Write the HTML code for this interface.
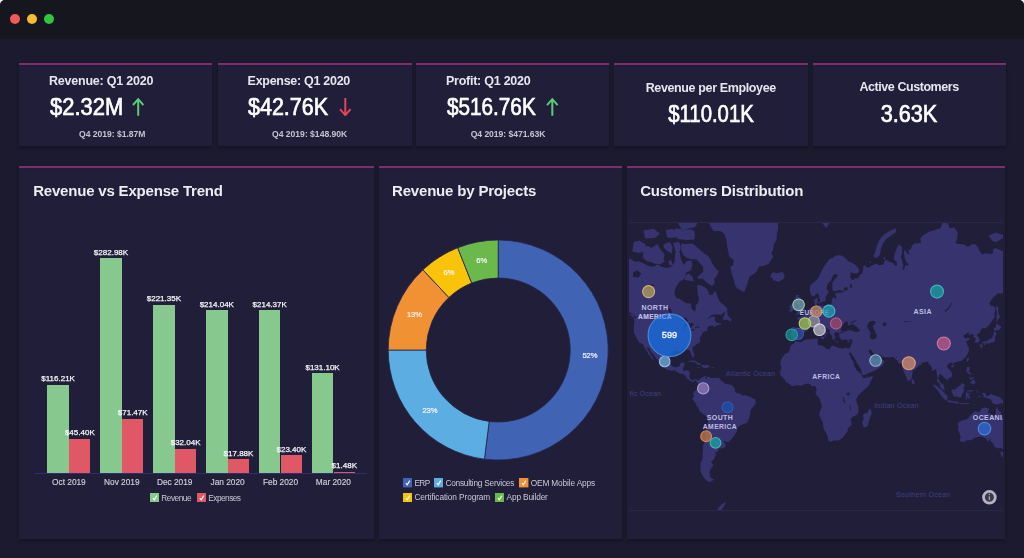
<!DOCTYPE html>
<html><head><meta charset="utf-8"><style>
*{box-sizing:border-box;margin:0;padding:0}
html{background:#f0f0f0}
html,body{width:1024px;height:558px;overflow:hidden}
body{background:#1c1a2e;font-family:"Liberation Sans", sans-serif;color:#fff;position:relative;border-radius:5px 5px 0 0}
.abs{position:absolute}
.card{position:absolute;top:63px;height:83px;background:#211e3a;box-shadow:0 2px 3px rgba(8,6,18,0.35)}
.panel{position:absolute;top:165px;height:373.8px;background:#211e3a;box-shadow:0 2px 3px rgba(8,6,18,0.35)}
.t{position:absolute;white-space:nowrap;line-height:1}
.pl{position:absolute;height:4px;background:linear-gradient(to bottom,#22162c 0%,#22162c 25%,#70306c 25%,#783474 50%,#70306c 75%,#2a1638 75%,#2a1638 100%)}
</style></head><body><div id="root" style="position:absolute;left:0;top:0;width:1024px;height:558px;filter:blur(0.45px)">
<div class="abs" style="left:0;top:0;width:1024px;height:39px;background:#16161e;border-radius:5px 5px 0 0"></div>
<div class="abs" style="left:9.7px;top:14px;width:10px;height:10px;border-radius:50%;background:#f25a5a"></div>
<div class="abs" style="left:26.5px;top:14px;width:10px;height:10px;border-radius:50%;background:#f7bd2e"></div>
<div class="abs" style="left:43.6px;top:14px;width:10px;height:10px;border-radius:50%;background:#2fc641"></div>

<div class="card" style="left:19px;width:193px"></div>
<div class="pl" style="left:19px;width:193px;top:62.2px"></div>
<div class="card" style="left:218px;width:194px"></div>
<div class="pl" style="left:218px;width:194px;top:62.2px"></div>
<div class="card" style="left:416px;width:193px"></div>
<div class="pl" style="left:416px;width:193px;top:62.2px"></div>
<div class="card" style="left:614px;width:194px"></div>
<div class="pl" style="left:614px;width:194px;top:62.2px"></div>
<div class="card" style="left:813px;width:193px"></div>
<div class="pl" style="left:813px;width:193px;top:62.2px"></div>
<div class="panel" style="left:19px;width:354.5px"></div>
<div class="pl" style="left:19px;width:354.5px;top:164.5px"></div>
<div class="panel" style="left:379px;width:242.5px"></div>
<div class="pl" style="left:379px;width:242.5px;top:164.5px"></div>
<div class="panel" style="left:626.5px;width:378.1px"></div>
<div class="pl" style="left:626.5px;width:378.1px;top:164.5px"></div>
<svg class="abs" style="left:132px;top:98px" width="12.4" height="17.8"><path d="M6.2 1.2 L6.2 17.8 M1 7.0 L6.2 1.2 L11.4 7.0" stroke="#5ccb78" stroke-width="2" fill="none" stroke-linecap="butt" stroke-linejoin="miter"/></svg>
<svg class="abs" style="left:338.8px;top:98px" width="12.6" height="18.3"><path d="M6.3 0 L6.3 17.1 M1 11.2 L6.3 17.1 L11.6 11.2" stroke="#e0455e" stroke-width="2" fill="none" stroke-linecap="butt" stroke-linejoin="miter"/></svg>
<svg class="abs" style="left:546.4px;top:98px" width="12.6" height="17.8"><path d="M6.3 1.2 L6.3 17.8 M1 7.1 L6.3 1.2 L11.6 7.1" stroke="#5ccb78" stroke-width="2" fill="none" stroke-linecap="butt" stroke-linejoin="miter"/></svg>
<div class="abs" style="left:34.9px;top:473px;width:332.5px;height:1.4px;background:#2e2e74"></div>
<div class="abs" style="left:47.30px;top:384.68px;width:21.6px;height:88.32px;background:#86c88e"></div>
<div class="abs" style="left:69.10px;top:438.50px;width:21.4px;height:34.50px;background:#e05766"></div>
<div class="abs" style="left:100.20px;top:257.94px;width:21.6px;height:215.06px;background:#86c88e"></div>
<div class="abs" style="left:122.00px;top:418.68px;width:21.4px;height:54.32px;background:#e05766"></div>
<div class="abs" style="left:153.10px;top:304.77px;width:21.6px;height:168.23px;background:#86c88e"></div>
<div class="abs" style="left:174.90px;top:448.65px;width:21.4px;height:24.35px;background:#e05766"></div>
<div class="abs" style="left:206.00px;top:310.33px;width:21.6px;height:162.67px;background:#86c88e"></div>
<div class="abs" style="left:227.80px;top:459.41px;width:21.4px;height:13.59px;background:#e05766"></div>
<div class="abs" style="left:258.90px;top:310.08px;width:21.6px;height:162.92px;background:#86c88e"></div>
<div class="abs" style="left:280.70px;top:455.22px;width:21.4px;height:17.78px;background:#e05766"></div>
<div class="abs" style="left:311.80px;top:373.36px;width:21.6px;height:99.64px;background:#86c88e"></div>
<div class="abs" style="left:333.60px;top:471.80px;width:21.4px;height:1.20px;background:#e05766"></div>
<svg class="abs" style="left:150px;top:493.1px" width="9.4" height="9.4"><rect width="9.4" height="9.4" fill="#86c88e"/><path d="M2.82 5.17 L4.23 6.77 L6.77 2.63" stroke="#fff" stroke-width="1.1" fill="none"/></svg>
<svg class="abs" style="left:196.8px;top:493.1px" width="9.4" height="9.4"><rect width="9.4" height="9.4" fill="#e05766"/><path d="M2.82 5.17 L4.23 6.77 L6.77 2.63" stroke="#fff" stroke-width="1.1" fill="none"/></svg>
<svg class="abs" style="left:0;top:0" width="1024" height="558" viewBox="0 0 1024 558"><path d="M498.20 240.00 A110.0 110.0 0 1 1 484.41 459.13 L489.18 421.43 A72.0 72.0 0 1 0 498.20 278.00Z" fill="#4063b4" stroke="#26234a" stroke-width="0.8"/><path d="M484.41 459.13 A110.0 110.0 0 0 1 388.20 350.00 L426.20 350.00 A72.0 72.0 0 0 0 489.18 421.43Z" fill="#5caee2" stroke="#26234a" stroke-width="0.8"/><path d="M388.20 350.00 A110.0 110.0 0 0 1 422.90 269.81 L448.91 297.51 A72.0 72.0 0 0 0 426.20 350.00Z" fill="#f09234" stroke="#26234a" stroke-width="0.8"/><path d="M422.90 269.81 A110.0 110.0 0 0 1 457.71 247.72 L471.70 283.06 A72.0 72.0 0 0 0 448.91 297.51Z" fill="#f9c30c" stroke="#26234a" stroke-width="0.8"/><path d="M457.71 247.72 A110.0 110.0 0 0 1 498.20 240.00 L498.20 278.00 A72.0 72.0 0 0 0 471.70 283.06Z" fill="#6cb94b" stroke="#26234a" stroke-width="0.8"/></svg>
<svg class="abs" style="left:403.1px;top:478.2px" width="9.4" height="9.4"><rect width="9.4" height="9.4" fill="#4063b4"/><path d="M2.82 5.17 L4.23 6.77 L6.77 2.63" stroke="#fff" stroke-width="1.1" fill="none"/></svg>
<svg class="abs" style="left:433.9px;top:478.2px" width="9.4" height="9.4"><rect width="9.4" height="9.4" fill="#5caee2"/><path d="M2.82 5.17 L4.23 6.77 L6.77 2.63" stroke="#fff" stroke-width="1.1" fill="none"/></svg>
<svg class="abs" style="left:519.3px;top:478.2px" width="9.4" height="9.4"><rect width="9.4" height="9.4" fill="#f09234"/><path d="M2.82 5.17 L4.23 6.77 L6.77 2.63" stroke="#fff" stroke-width="1.1" fill="none"/></svg>
<svg class="abs" style="left:403.1px;top:492.7px" width="9.4" height="9.4"><rect width="9.4" height="9.4" fill="#f9c30c"/><path d="M2.82 5.17 L4.23 6.77 L6.77 2.63" stroke="#fff" stroke-width="1.1" fill="none"/></svg>
<svg class="abs" style="left:494.9px;top:492.7px" width="9.4" height="9.4"><rect width="9.4" height="9.4" fill="#6cb94b"/><path d="M2.82 5.17 L4.23 6.77 L6.77 2.63" stroke="#fff" stroke-width="1.1" fill="none"/></svg>
<svg class="abs" style="left:629px;top:222px" width="374" height="288" viewBox="629 222 374 288">
<rect x="629" y="222" width="374" height="288" fill="#211e3a"/>
<path d="M574.5 274.9L579.9 270.3L577.2 263.5L589.7 254.1L601.7 258.1L611.3 260.9L618.1 263.5L626.2 259.3L630.3 258.5L634.4 261.6L639.8 261.6L643.9 263.5L648.0 266.1L653.5 266.8L657.5 264.6L661.6 266.8L665.7 267.8L669.8 267.5L672.5 265.3L674.6 261.2L675.2 253.2L678.0 248.9L680.0 253.2L681.0 259.3L683.7 265.0L686.8 260.9L691.6 260.5L692.5 265.0L690.9 270.3L688.2 271.6L686.1 272.6L685.0 276.8L684.1 279.3L679.7 281.4L677.3 285.0L675.2 288.6L674.4 294.0L676.6 298.3L680.0 298.8L683.4 301.4L686.8 303.3L691.2 303.6L691.2 308.3L692.9 309.9L695.0 311.6L695.8 309.4L695.7 305.4L698.4 302.2L698.9 297.8L697.7 294.5L697.4 290.0L697.0 285.3L700.4 285.0L704.5 287.0L706.5 288.6L708.5 292.1L708.9 294.2L710.6 295.0L712.7 294.7L714.7 290.8L715.7 291.9L717.4 296.5L719.1 300.2L720.8 302.6L724.5 305.4L727.0 308.3L727.5 310.5L725.3 311.8L721.5 314.4L716.8 314.4L712.7 314.6L710.0 316.2L707.2 319.7L709.3 317.9L712.7 316.6L715.4 317.0L714.7 318.9L715.0 320.8L716.3 322.4L719.5 323.2L721.5 322.8L720.8 324.3L716.8 325.4L713.6 327.3L713.1 325.4L711.7 325.4L709.5 326.0L707.6 327.3L707.1 329.1L707.9 330.6L706.5 331.1L704.5 331.6L702.5 332.7L702.5 334.6L700.8 335.8L700.4 337.2L699.7 338.9L700.4 341.2L700.0 341.8L698.9 342.7L697.3 343.8L695.7 345.1L693.6 346.5L692.7 347.8L692.4 349.5L693.5 352.5L694.3 355.3L693.8 357.3L692.8 357.5L691.8 356.0L690.6 353.5L690.5 351.6L689.3 350.3L688.2 350.1L686.1 349.5L683.4 349.5L681.4 349.8L681.9 351.3L680.4 351.5L678.6 350.9L675.9 350.6L674.1 351.2L671.8 352.7L670.7 354.2L670.6 356.1L670.2 358.8L670.1 361.6L670.9 364.2L672.2 366.0L674.6 367.5L677.3 366.8L679.3 366.3L680.1 364.2L680.3 363.3L682.7 362.7L684.8 362.7L684.1 365.6L683.4 367.3L683.0 370.2L683.1 370.9L686.1 370.6L688.4 370.6L689.9 371.9L689.5 374.6L689.4 376.7L690.2 378.7L691.6 380.1L693.6 379.8L695.0 379.3L696.3 379.5L698.0 380.6L698.0 381.6L696.7 382.2L696.3 380.9L694.6 380.6L693.8 382.2L692.9 381.7L691.8 381.1L690.2 381.0L689.3 380.1L687.5 378.8L686.4 378.3L686.5 377.2L684.1 374.6L682.0 373.9L679.3 373.4L677.6 372.6L674.6 370.3L671.8 370.9L669.1 370.1L667.2 369.4L665.0 368.2L662.3 367.3L660.3 365.9L659.3 364.3L659.9 362.7L658.2 360.3L656.5 358.4L654.8 356.7L654.1 355.1L652.1 353.3L650.3 351.2L649.6 349.3L648.7 348.1L646.9 347.5L647.3 349.5L649.0 351.6L650.5 354.4L652.1 356.4L653.0 358.8L653.6 360.7L652.8 359.8L651.0 358.4L650.5 356.3L649.0 355.0L647.9 353.6L647.6 352.1L645.6 349.5L644.6 347.6L643.8 346.2L643.2 344.8L641.9 343.8L640.5 343.1L639.0 342.8L638.6 341.4L637.3 339.5L636.4 337.5L635.8 336.7L634.7 334.1L633.9 333.0L634.1 330.2L633.7 328.4L634.4 322.4L634.1 320.2L633.4 318.1L635.5 318.5L636.4 317.2L635.8 316.2L634.4 315.2L633.0 314.2L631.0 313.1L629.6 312.7L629.0 310.5L626.9 307.7L625.6 305.0L624.2 302.6L622.1 299.0L620.1 296.0L617.4 295.3L614.7 293.5L612.6 291.9L608.5 291.3L605.8 290.5L601.7 289.2L599.0 288.1L597.0 291.3L596.3 294.0L593.6 297.8L590.8 299.5L588.1 300.2L585.4 301.9L582.7 303.8L579.3 305.0L582.7 302.6L586.8 299.0L588.8 295.3L585.4 295.0L582.7 291.6L579.3 290.0L578.6 287.2L579.0 282.3L584.0 278.4L582.0 278.7L577.2 278.4L574.5 274.9ZM703.8 217.8L709.3 224.1L713.4 231.1L720.2 231.1L724.2 233.8L726.3 239.5L727.6 248.5L729.0 255.3L730.4 258.1L733.8 260.1L733.1 265.0L730.4 266.8L731.7 273.6L733.8 279.9L735.1 285.3L737.2 288.6L741.3 290.8L744.0 291.9L745.3 289.7L746.7 285.8L748.1 281.4L749.4 276.8L752.2 274.9L756.2 272.0L759.0 266.8L763.7 265.7L768.5 263.9L771.9 258.9L773.3 256.1L771.2 253.2L773.3 248.9L773.9 243.9L776.7 239.5L776.7 234.3L778.0 228.8L778.0 222.9L776.7 216.4L778.0 209.4L782.8 201.7L786.9 193.2L776.0 186.6L762.4 171.4L741.9 182.5L728.3 185.6L721.5 188.5L716.1 195.8L713.4 201.7L707.9 209.4L703.8 217.8ZM770.5 275.2L772.6 272.3L776.0 273.3L778.7 273.0L782.8 272.0L784.8 276.2L783.5 279.0L778.7 281.7L774.6 280.5L772.4 280.5L773.3 278.4L770.5 277.2ZM718.9 271.6L716.3 276.8L714.0 278.4L714.7 283.2L712.7 285.8L710.0 285.0L705.9 281.7L702.5 278.4L699.1 279.0L697.0 277.5L699.1 275.2L703.1 272.0L703.1 266.8L699.7 263.1L696.3 259.3L691.6 259.3L686.8 257.7L683.4 255.3L681.0 248.9L681.4 243.4L686.1 243.9L692.9 243.4L698.4 248.5L703.8 253.2L707.9 256.1L710.6 259.3L712.0 263.1L715.4 268.2ZM694.3 239.5L686.1 240.0L678.0 239.0L672.5 234.3L675.2 228.2L683.4 229.4L690.2 229.4L694.3 230.5L695.0 235.4ZM682.0 229.9L690.2 228.2L695.0 227.1L699.7 219.7L703.8 213.0L712.0 205.7L718.8 193.2L718.8 183.6L701.1 177.2L680.7 190.4L673.9 201.7L671.2 213.0L676.6 221.0ZM680.0 251.1L675.5 252.0L673.2 242.9L679.3 241.9L680.7 246.7ZM671.8 253.2L667.1 251.1L663.7 247.6L663.7 244.3L669.8 241.9L672.5 246.7ZM665.0 261.2L660.3 264.2L655.5 263.9L650.7 262.0L646.7 261.2L642.6 257.3L643.2 253.2L641.2 248.9L648.0 245.7L651.4 248.0L657.5 243.9L660.3 248.9L664.6 254.5L663.7 259.3ZM646.0 248.9L639.8 253.2L632.4 251.5L633.7 241.9L639.2 240.5L645.3 243.9ZM659.6 234.3L654.8 238.0L645.3 238.5L643.2 230.5L653.5 228.8L658.9 232.7ZM676.6 236.9L671.2 238.0L667.1 237.5L665.7 229.9L672.5 228.8L676.6 232.7ZM672.5 265.0L669.1 265.0L668.4 261.2L671.2 260.1ZM693.6 281.4L690.2 280.8L684.8 279.9L685.4 275.2L688.9 273.6L692.3 276.8ZM722.5 319.7L727.0 319.8L730.4 321.4L731.5 319.8L730.4 317.9L727.6 315.8L727.6 311.6L725.6 311.6L723.6 316.8ZM687.6 362.1L690.2 360.7L691.6 360.4L694.3 360.6L698.4 362.7L702.2 364.6L697.7 365.0L696.3 362.9L692.3 361.7L688.2 362.3ZM701.9 365.0L704.5 365.0L707.9 365.1L710.1 366.8L707.9 367.4L705.9 368.2L701.9 367.3ZM696.6 367.1L699.5 367.1L699.3 367.8L697.3 367.8ZM711.7 367.0L713.9 367.1L713.8 367.7L711.7 367.8ZM635.4 318.1L633.0 317.2L628.4 313.1L629.6 313.7L632.8 314.4ZM698.0 380.6L699.7 379.5L700.4 378.0L702.1 377.4L703.8 376.7L705.2 375.4L706.1 376.3L705.5 377.8L706.3 379.8L706.7 377.5L707.6 376.5L709.3 376.8L710.6 378.0L713.4 377.9L716.1 377.9L718.8 377.8L720.2 379.4L721.5 380.7L722.9 381.8L724.2 383.0L725.6 384.1L728.3 384.2L731.1 384.8L733.1 386.5L733.8 387.5L735.1 389.7L735.1 391.7L736.5 392.8L737.9 393.2L739.9 393.5L742.6 395.5L744.7 395.3L747.4 396.0L750.8 397.1L752.8 398.6L755.3 399.5L755.8 402.2L755.1 404.5L753.5 406.2L752.2 407.9L750.8 409.7L750.1 412.4L749.8 416.2L749.0 418.7L748.1 420.8L747.4 422.3L746.0 423.6L744.4 423.7L741.9 424.7L739.2 426.1L737.2 427.8L737.0 431.4L735.4 433.4L734.2 435.7L732.4 437.8L730.5 440.2L728.5 441.9L726.3 441.8L724.5 441.3L723.7 440.8L723.6 441.8L725.2 443.3L726.0 444.4L724.8 447.4L722.9 448.3L720.2 448.6L718.5 448.5L718.4 451.1L716.3 452.5L714.7 452.3L715.7 454.6L716.5 455.5L715.3 455.7L714.6 457.7L713.9 459.6L711.3 461.5L711.3 462.5L713.6 465.0L711.6 467.4L710.5 469.7L709.3 472.0L710.1 474.4L710.0 476.6L711.4 478.2L714.4 479.8L712.7 480.5L710.0 481.4L711.6 482.8L708.6 481.7L706.5 480.5L704.5 478.2L702.5 475.5L701.1 472.7L700.4 469.5L700.6 466.4L700.3 463.4L701.5 461.1L702.5 458.7L702.7 455.9L702.5 453.7L702.7 451.4L703.1 448.8L703.0 445.7L704.1 442.9L705.2 440.5L705.7 438.9L705.9 435.0L706.1 431.9L706.8 429.6L707.2 426.6L707.4 424.6L707.8 421.6L707.6 419.4L707.5 417.3L706.0 416.2L704.5 414.8L702.5 413.5L700.4 412.1L699.3 410.6L698.4 408.3L697.3 406.7L696.3 404.9L695.0 402.2L694.0 400.8L692.8 400.2L692.5 398.2L693.9 396.7L694.6 395.5L693.1 395.1L693.6 393.3L694.2 391.5L695.7 390.4L696.2 389.7L697.3 388.7L698.1 386.8L697.8 383.4L697.2 382.4ZM795.3 340.9L793.9 343.6L791.6 344.9L790.4 346.3L789.9 349.2L789.6 350.7L787.8 352.8L785.6 353.5L783.5 356.0L782.5 357.6L781.4 359.1L780.7 361.3L780.1 363.4L781.0 365.6L781.3 367.7L780.7 370.2L780.1 371.9L779.4 372.3L780.3 373.9L780.5 375.6L782.1 376.7L782.8 377.4L783.9 378.7L784.8 379.4L785.2 380.7L786.6 382.4L788.2 383.0L789.9 384.5L791.6 385.9L793.0 386.3L795.0 385.6L796.4 385.3L798.4 385.3L800.5 385.9L801.8 385.2L803.9 384.4L805.2 384.0L806.6 383.7L809.3 383.7L810.7 384.8L811.4 386.4L813.4 386.1L814.8 386.0L815.7 387.1L816.5 388.8L816.5 390.8L815.9 392.1L815.5 393.1L816.8 395.5L818.4 397.1L819.5 398.6L819.9 400.2L820.9 402.2L821.2 403.9L821.8 406.2L821.8 407.6L820.6 409.7L819.8 411.7L819.3 414.5L819.3 415.6L820.2 417.3L821.6 420.1L822.7 422.3L822.9 423.6L823.3 426.6L823.9 429.6L825.7 432.0L826.8 434.2L827.7 436.5L828.1 438.9L828.2 440.6L829.5 441.3L830.4 441.8L832.5 441.1L833.8 440.5L835.9 440.6L838.0 440.5L839.3 440.0L841.2 438.9L842.7 437.6L844.0 436.2L845.4 433.9L846.8 432.3L847.4 431.6L848.0 428.9L847.6 428.0L848.8 427.2L850.8 426.1L851.5 424.7L851.3 422.3L851.0 420.8L850.6 419.4L851.5 418.0L853.4 416.5L855.6 415.6L857.4 414.2L858.3 412.4L858.5 411.0L858.3 409.0L858.3 406.2L857.2 404.2L856.7 402.9L856.7 401.2L856.0 400.3L856.6 398.6L857.2 397.5L857.9 396.1L859.0 394.8L859.8 394.1L861.1 392.8L862.4 391.5L863.8 390.1L865.8 388.8L867.2 387.5L868.5 386.1L869.5 384.4L870.6 381.4L871.7 379.4L872.4 378.0L873.0 376.3L871.9 376.1L869.9 376.9L867.9 377.2L865.8 377.8L864.5 378.2L863.1 378.0L862.3 376.5L861.6 375.6L862.1 375.0L860.6 373.5L859.4 372.6L857.7 370.9L857.0 371.0L855.6 367.7L854.2 366.6L853.8 365.4L853.8 363.4L853.3 361.7L851.7 359.4L851.1 357.9L849.9 355.7L849.2 354.1L847.6 350.3L847.4 349.5L847.2 348.2L846.1 347.8L844.7 347.8L843.9 348.2L842.0 348.7L840.0 348.1L837.5 347.6L835.9 347.0L834.5 346.0L832.5 345.6L830.6 346.7L830.3 348.2L829.1 349.6L827.7 348.9L825.7 348.2L824.0 346.5L821.2 345.6L818.9 345.2L817.6 344.3L817.2 343.5L818.3 341.8L817.6 340.9L817.5 339.4L818.3 338.7L816.5 338.4L814.9 339.0L812.7 338.7L810.7 339.4L807.3 339.2L805.2 339.7L803.2 340.7L801.6 341.7L800.2 342.0L799.1 341.7L797.2 341.8L796.0 340.7ZM870.3 408.3L871.5 411.7L871.9 413.1L871.0 415.2L870.6 416.3L869.2 420.1L868.3 423.7L867.2 426.6L864.7 427.4L863.1 425.9L862.6 424.2L862.1 422.0L863.4 420.1L863.6 418.3L863.1 415.6L863.8 414.1L866.5 413.2L867.9 411.9L868.5 410.3L869.5 409.0ZM795.6 340.5L794.6 339.7L793.1 338.5L791.1 338.9L791.2 336.7L790.3 335.8L791.1 332.9L791.1 330.2L790.5 328.4L792.3 327.1L796.4 327.5L799.1 327.7L800.7 327.7L801.4 325.6L801.6 322.8L800.2 320.4L797.2 319.1L796.8 318.1L799.1 317.2L801.0 317.7L800.6 315.4L801.6 316.0L803.5 315.8L805.2 314.4L805.4 312.9L806.6 312.5L808.1 311.8L808.9 310.5L809.6 308.6L810.7 307.4L812.7 307.2L814.8 307.0L814.9 305.0L814.4 302.6L814.2 299.5L816.1 298.5L817.6 297.3L817.4 300.2L817.9 301.0L816.8 303.1L816.8 304.7L818.2 305.6L820.2 305.0L822.3 306.1L825.0 305.4L828.4 304.3L829.9 305.2L831.8 303.3L831.9 300.2L832.6 297.8L834.0 297.3L835.2 299.0L836.3 298.3L836.3 295.8L835.2 295.0L835.3 293.5L836.8 292.7L839.3 292.4L841.3 292.7L844.3 291.6L842.7 290.8L840.0 290.0L837.2 290.5L834.5 291.6L832.3 289.7L832.5 286.4L832.1 283.5L833.8 280.5L836.6 277.5L837.8 275.2L836.1 274.3L833.8 274.3L832.2 277.2L831.1 280.5L829.1 282.3L827.4 284.4L826.6 287.2L826.8 289.7L828.7 291.1L828.4 292.7L827.0 294.5L825.7 296.8L825.7 300.2L824.7 301.2L822.8 301.4L820.8 302.9L820.2 300.2L819.3 297.3L818.4 294.5L817.6 292.4L816.8 294.0L816.1 294.2L814.1 296.3L812.0 296.0L810.8 294.5L810.3 292.7L810.0 290.0L809.9 287.2L810.3 285.3L812.0 283.8L814.1 282.0L816.1 280.5L817.5 278.4L819.5 275.9L820.2 273.6L821.6 270.9L822.9 268.5L824.3 266.1L825.7 264.6L827.7 261.2L829.7 258.9L832.5 258.1L835.2 256.1L838.3 254.9L842.0 255.7L845.4 258.1L848.1 261.2L852.2 262.8L855.6 265.3L858.3 267.8L859.3 270.9L858.3 273.0L855.6 273.6L850.8 272.6L850.2 276.2L850.6 278.4L853.6 280.2L854.9 278.1L858.3 278.4L859.7 275.2L862.4 273.0L863.1 269.6L863.4 265.7L865.1 265.0L865.8 266.8L868.5 267.8L869.9 266.8L872.6 265.3L876.0 263.5L878.8 265.0L881.5 265.0L883.5 264.6L884.2 261.2L885.6 260.1L887.6 260.5L890.3 262.0L893.0 263.1L894.4 265.0L896.4 266.1L897.1 263.5L896.2 261.2L894.1 260.1L894.1 255.3L896.4 248.9L897.8 246.7L898.5 244.3L900.5 245.7L902.3 247.6L901.9 253.2L900.9 257.3L902.6 262.0L903.3 265.7L902.2 270.3L904.2 269.2L905.3 265.0L907.3 265.7L908.7 263.9L906.0 262.0L904.6 257.3L903.7 252.0L905.3 249.8L906.7 253.2L909.7 254.5L908.0 250.2L910.7 248.9L912.9 244.3L914.8 243.4L921.0 242.9L920.3 238.5L922.3 235.9L925.7 233.8L929.8 231.6L933.9 230.5L938.0 228.8L940.7 228.2L942.1 223.5L945.2 221.6L948.2 224.1L949.5 228.2L954.3 227.6L957.7 232.2L957.4 236.9L955.7 242.9L958.4 243.9L963.8 244.3L967.9 247.1L972.0 244.3L975.4 244.3L978.1 247.6L979.5 251.1L982.2 254.5L985.6 253.2L989.7 254.1L993.1 253.2L993.1 249.3L995.1 248.0L1000.6 250.2L1007.4 252.8L1010.8 255.7L1014.2 255.3L1019.6 256.1L1021.7 259.3L1022.4 261.2L1026.5 260.9L1030.5 260.1L1034.6 259.3L1040.1 260.1L1045.5 261.6L1048.2 263.5L1048.2 276.8L1045.5 278.4L1043.5 278.1L1044.8 282.9L1040.1 286.4L1037.3 288.6L1034.6 291.3L1029.2 291.6L1025.8 291.9L1025.1 295.3L1023.7 297.0L1025.1 300.2L1023.7 301.9L1023.0 305.0L1021.0 308.3L1019.0 309.4L1016.5 312.7L1015.8 309.4L1015.2 303.8L1015.4 299.5L1016.7 297.0L1019.0 296.0L1021.0 292.1L1023.0 290.0L1021.0 288.1L1018.3 286.7L1016.2 287.2L1014.2 292.7L1011.5 293.7L1009.4 292.9L1006.0 292.9L1001.9 293.5L997.9 293.2L995.8 295.3L993.1 297.8L990.8 300.7L989.4 303.8L991.1 306.1L993.1 305.9L995.6 307.7L995.1 310.5L994.5 313.7L994.2 317.9L992.4 320.0L991.1 322.4L989.4 324.7L987.7 326.6L985.3 328.6L983.3 328.0L982.2 328.4L981.1 329.3L979.9 332.0L979.5 333.0L977.4 334.1L976.8 335.0L977.9 336.3L979.4 338.9L979.4 341.4L978.8 342.0L976.9 342.7L975.4 343.1L975.1 341.4L975.4 339.5L975.5 337.7L973.6 337.5L973.5 336.2L973.8 334.6L972.4 333.9L970.0 334.8L968.7 335.5L968.6 334.3L969.3 332.9L968.3 332.2L966.6 333.4L965.2 334.4L963.8 335.1L963.4 336.3L964.1 337.5L965.1 338.2L965.9 338.7L967.5 337.7L968.6 338.0L970.0 338.5L969.7 339.2L967.9 339.9L967.0 340.7L965.6 342.5L967.0 343.3L967.6 346.2L969.1 347.5L969.1 348.5L968.6 349.3L969.1 350.1L968.6 351.6L967.9 353.2L967.0 354.7L966.1 356.4L965.2 357.3L964.1 358.4L962.7 359.7L961.8 360.7L960.0 361.0L958.7 361.6L957.3 361.7L955.7 362.3L953.8 363.2L953.4 364.4L952.8 363.7L952.5 362.7L950.9 362.4L949.3 363.4L948.5 363.9L947.2 365.6L947.1 366.6L948.2 368.4L949.3 369.8L950.6 370.8L951.4 371.9L952.0 373.9L951.9 376.5L950.9 377.4L948.9 378.2L948.2 379.3L946.1 380.6L945.9 379.0L945.5 378.2L944.1 377.9L943.0 376.0L942.3 375.4L940.6 375.0L940.6 373.9L939.3 374.1L939.2 375.3L938.2 378.0L938.4 379.8L939.7 380.9L940.1 382.8L941.4 383.0L942.2 383.8L943.6 385.2L944.0 386.1L944.1 388.4L945.2 390.3L944.1 390.4L942.9 389.6L941.1 388.3L940.1 386.8L939.7 384.9L939.7 383.4L938.8 382.9L937.0 381.6L937.0 380.1L937.4 378.7L937.3 376.7L937.0 375.3L936.6 373.2L936.2 369.8L935.5 369.2L934.6 369.5L933.2 370.8L932.3 370.8L931.6 370.1L932.0 368.4L931.4 366.6L930.6 365.6L929.8 364.9L928.8 363.7L928.4 362.7L928.2 361.4L927.5 361.1L926.4 361.9L925.4 362.1L924.4 362.3L923.3 362.6L921.6 362.7L921.4 364.0L921.0 364.9L918.9 365.6L917.5 367.1L915.2 369.6L913.7 370.6L912.5 371.2L912.4 374.6L911.8 376.7L911.8 378.3L910.7 379.7L909.7 380.3L908.7 381.3L907.5 380.2L907.1 379.4L906.3 376.9L905.3 375.3L904.6 373.2L903.9 371.9L903.1 369.8L902.6 367.7L902.3 366.1L902.3 364.2L902.2 363.2L901.6 362.7L899.9 363.7L899.2 363.7L897.3 361.6L898.9 360.7L897.8 360.7L896.4 359.8L895.1 359.1L894.4 357.9L893.7 357.0L891.0 357.3L887.6 357.3L886.9 357.5L884.2 357.0L883.2 356.7L881.2 356.4L880.8 355.0L880.1 354.5L878.8 355.1L877.4 355.3L876.0 355.0L874.0 353.5L873.0 353.2L871.9 350.9L871.3 349.9L869.6 349.9L868.5 350.3L869.2 352.4L869.8 353.6L871.0 355.0L871.5 356.0L872.1 357.6L872.9 356.0L873.4 356.9L873.4 358.4L873.0 358.7L874.7 358.8L876.7 358.8L878.8 357.2L879.8 355.7L880.0 357.9L881.1 359.2L883.0 359.7L884.6 361.4L884.2 362.7L882.8 364.2L881.9 366.3L880.5 366.7L879.4 367.8L878.5 368.5L877.0 369.1L874.3 371.0L872.9 371.6L869.9 372.6L868.5 373.2L866.5 374.2L864.5 374.9L862.4 375.0L862.0 373.9L861.5 371.9L861.3 371.2L861.1 369.4L860.1 368.0L859.0 366.3L858.3 364.9L856.6 362.7L856.0 360.8L854.9 359.1L854.0 357.6L852.9 356.1L851.7 354.1L850.8 353.0L850.7 350.9L850.2 352.4L849.9 353.5L848.8 352.7L847.6 350.3L847.4 349.5L847.2 348.2L848.8 348.4L849.8 348.1L850.2 347.6L850.8 345.7L851.5 344.0L852.1 342.7L852.1 341.4L852.5 339.5L851.5 339.5L850.3 339.2L848.8 340.2L847.4 340.4L846.1 339.5L844.9 339.2L843.4 340.2L842.0 339.4L840.6 338.9L840.4 338.0L839.1 336.5L839.5 334.6L838.9 333.6L839.4 332.7L838.6 332.3L837.2 332.2L835.9 332.3L834.4 332.7L835.2 333.7L834.0 334.6L834.8 336.3L835.9 337.0L836.0 337.7L834.5 337.4L834.8 339.7L833.7 339.9L832.7 339.2L831.9 337.5L832.5 336.7L831.4 335.1L830.4 334.3L829.6 333.0L829.7 330.6L828.4 329.3L826.3 328.0L824.8 327.3L823.6 325.6L822.9 324.3L821.8 324.5L821.7 323.3L819.9 323.9L819.9 325.8L821.7 327.5L822.9 329.8L825.0 330.4L826.2 331.8L828.4 333.6L828.1 334.1L826.5 332.9L825.7 334.3L826.5 335.5L825.8 336.5L825.1 337.4L824.4 336.8L824.8 335.0L823.6 333.4L822.3 332.3L820.2 331.3L818.4 329.5L817.5 328.4L817.1 326.7L815.3 325.8L813.4 326.9L811.6 328.2L810.0 327.8L808.8 327.5L807.4 328.4L807.6 329.7L806.1 331.5L804.3 332.5L802.8 334.6L803.5 336.0L802.2 337.9L800.3 339.4L797.2 339.4L795.6 340.5ZM795.4 314.6L798.4 314.2L801.8 313.3L805.1 312.3L804.4 311.0L805.5 309.2L803.6 308.1L803.1 307.0L801.4 304.7L801.0 302.4L800.2 301.4L799.7 300.7L800.5 298.8L800.7 297.5L798.7 297.3L797.8 296.8L799.0 295.0L796.4 295.0L795.4 297.8L795.6 300.2L794.8 300.7L795.7 302.9L796.7 302.2L796.3 304.3L798.4 304.0L798.8 305.9L799.1 307.4L796.9 307.7L797.5 308.6L797.6 309.9L796.0 310.8L797.3 311.4L799.1 311.6L798.7 312.3L797.5 312.3ZM795.0 310.1L794.8 307.4L795.0 305.6L795.4 304.5L794.8 303.3L793.3 302.9L791.6 304.0L791.5 305.4L789.6 305.6L789.7 307.4L790.7 308.8L789.0 310.3L789.9 311.6L791.6 311.4L793.7 310.3ZM820.1 337.0L821.3 336.8L824.4 336.7L823.8 338.4L823.8 339.4L822.9 339.2L820.2 337.9ZM814.6 332.0L815.7 331.5L816.5 332.3L816.3 335.1L815.5 335.3L814.6 335.5L814.8 333.7ZM814.9 329.5L816.0 328.4L816.3 329.8L815.7 331.3L815.2 330.9ZM835.2 341.2L836.6 341.5L839.0 341.7L838.6 342.2L836.6 342.2L835.2 341.8ZM847.2 342.2L848.1 341.5L850.3 341.0L849.5 342.3L848.1 342.8ZM818.2 301.9L820.4 301.4L820.1 303.8L818.4 303.3ZM911.8 379.0L912.5 379.0L914.7 382.1L914.3 383.7L912.9 384.2L911.8 382.8L911.7 381.1ZM967.9 357.2L969.3 357.6L968.6 359.8L967.6 362.1L966.7 360.6L967.0 358.7ZM951.0 366.0L952.9 364.7L954.3 365.4L952.9 367.3L951.2 367.0ZM993.8 331.1L995.4 330.6L998.3 330.2L1001.3 327.8L1000.6 326.2L996.5 323.7L996.0 324.1L995.8 327.8L994.2 327.8L993.8 329.8ZM995.8 331.3L996.4 334.6L995.1 336.7L995.1 339.2L994.9 341.0L993.5 342.2L992.1 342.8L989.7 342.8L988.3 344.6L987.2 343.3L984.3 343.1L981.5 343.8L981.5 342.8L983.6 341.4L987.7 341.0L989.4 338.5L990.2 339.2L992.1 337.5L993.6 334.6L993.8 332.3L995.6 331.5ZM980.2 344.6L981.5 344.0L982.8 345.4L981.9 347.9L980.8 348.4L980.4 346.2L979.6 345.1ZM983.6 345.4L986.4 344.1L985.9 343.3L984.3 343.5L983.6 344.9ZM996.5 305.6L998.3 308.3L998.1 312.7L1000.2 316.8L997.9 319.8L996.6 322.8L996.4 318.9L996.8 312.7L996.1 307.7ZM967.2 367.0L969.6 367.0L969.7 370.1L968.6 371.2L972.0 374.6L970.0 374.3L967.9 373.5L967.1 372.6L966.3 370.1ZM969.3 382.8L971.5 381.4L973.9 379.0L975.5 382.5L974.0 384.6L972.0 383.4ZM969.3 376.3L971.3 378.0L974.0 376.7L973.4 378.7L970.6 379.8L969.3 378.0ZM932.9 384.6L935.9 385.2L939.7 388.8L941.4 389.7L944.4 392.8L945.5 394.5L947.5 396.1L947.4 399.9L945.5 400.0L942.5 397.5L940.7 395.2L939.7 393.5L937.3 389.7L935.7 388.1L933.9 387.1ZM946.4 401.2L948.2 400.2L950.6 400.6L953.6 401.4L956.6 401.4L959.1 402.5L958.9 403.8L954.3 403.1L950.2 402.6L948.0 402.1ZM959.7 403.1L961.1 403.3L965.2 403.1L967.2 403.3L970.0 403.3L970.6 403.7L966.6 404.1L961.8 404.1L959.7 403.9ZM972.0 405.7L973.6 404.6L976.5 403.4L975.4 404.1L973.4 405.3ZM951.6 390.1L952.4 389.5L954.3 389.7L957.0 387.9L959.1 386.1L960.3 385.5L962.2 382.8L963.4 384.1L965.5 385.2L963.8 386.4L963.3 388.1L964.5 390.4L963.8 391.1L963.2 392.8L961.8 394.8L961.4 397.2L959.2 397.6L957.0 396.4L955.1 396.8L953.2 396.0L952.9 394.1L951.6 392.1ZM965.7 399.5L967.1 399.6L967.1 396.0L968.1 398.3L970.4 398.6L968.6 394.8L971.2 393.3L967.9 393.5L966.8 391.6L972.3 391.6L973.5 390.0L967.6 390.4L966.3 392.1L965.6 396.1ZM976.8 389.7L978.1 390.4L977.4 392.1L978.5 393.2L976.8 392.8ZM977.4 396.1L980.8 396.3L981.3 397.2L978.1 396.8ZM981.5 393.9L983.4 392.7L985.6 393.2L987.0 396.6L990.9 394.1L995.1 395.6L999.9 397.2L1001.9 399.5L1004.0 400.4L1004.7 402.9L1008.1 406.0L1003.3 405.6L1001.9 402.9L998.5 404.2L997.2 404.6L995.1 404.3L992.4 402.9L990.8 399.4L987.0 398.0L984.3 397.5L982.9 395.9L984.3 395.2L982.9 394.8ZM957.7 422.3L958.4 428.1L957.7 428.9L959.6 433.4L960.7 437.3L959.7 439.7L959.7 441.0L963.7 442.3L966.6 440.3L971.3 440.3L974.7 437.8L978.8 436.7L981.8 436.5L985.9 438.4L987.9 441.8L989.4 439.7L990.8 438.2L990.4 442.1L991.7 441.8L993.1 443.4L994.5 447.1L998.5 448.5L1000.6 447.8L1002.4 449.0L1004.7 446.8L1007.4 446.3L1008.8 440.5L1010.8 437.3L1012.3 431.4L1011.5 427.4L1008.8 424.5L1006.7 422.7L1005.4 419.4L1002.4 417.7L1001.1 413.8L1001.0 412.1L998.7 411.0L997.2 406.5L996.0 409.2L995.8 413.1L994.6 415.9L992.8 415.7L990.8 414.2L987.7 412.4L989.3 408.7L988.1 408.3L983.7 407.6L981.5 408.6L979.5 412.1L977.4 412.4L975.9 410.8L973.4 412.4L971.5 414.2L969.6 416.3L967.9 418.7L964.9 419.8L962.1 420.3L959.2 422.0ZM1000.0 451.8L1005.1 452.1L1004.7 456.3L1001.9 457.0L1000.9 454.4ZM873.3 255.7L875.1 252.8L876.0 248.5L877.5 243.9L880.1 239.0L883.5 234.9L887.6 232.2L892.4 229.4L896.4 228.2L895.8 232.2L890.3 235.9L886.2 239.0L883.5 242.4L881.5 246.7L880.5 251.1L880.1 254.5L878.1 256.9L874.7 257.7ZM882.8 258.5L885.6 260.1L884.9 256.9ZM817.5 208.7L825.0 205.7L833.1 203.3L840.0 204.1L833.8 218.4L829.1 222.9L826.3 228.2L822.3 222.9L818.2 216.4ZM988.3 235.9L992.4 233.8L996.5 232.7L1000.6 234.3L1006.0 235.9L1008.8 236.9L1001.9 238.5L996.5 241.9L992.4 241.0L990.4 238.0ZM869.2 262.0L871.0 261.2L870.6 263.5ZM725.9 501.9L723.6 503.1L720.8 505.3L718.8 507.4L716.8 510.7L720.8 511.3L722.2 508.7L724.5 505.6Z" fill="#37336f"/>
<path d="M840.8 329.3L841.3 327.5L842.3 326.0L843.6 324.3L845.0 321.8L846.5 321.6L848.8 322.8L847.4 323.9L848.8 325.6L851.5 324.5L852.9 324.3L854.9 325.6L857.4 327.5L859.8 330.2L859.7 331.1L857.0 332.0L853.6 331.6L850.8 330.2L848.1 330.2L845.4 331.8L842.7 331.6L841.3 330.9ZM850.8 324.1L851.5 323.5L853.6 322.2L856.7 320.4L854.9 320.6L851.5 321.8L850.7 322.8ZM839.4 333.0L840.6 332.2L842.7 332.0L843.4 332.5L841.3 333.2ZM867.2 325.6L867.9 323.5L869.9 321.6L873.3 320.8L875.3 321.4L875.3 324.1L873.0 325.6L873.3 328.4L874.9 330.6L875.3 332.9L876.7 334.6L876.4 338.2L872.6 339.4L869.9 338.0L869.8 336.3L870.6 333.4L869.2 330.6L867.9 328.4ZM882.8 322.8L885.6 322.4L886.9 324.3L884.9 326.6L882.8 325.6ZM678.0 321.4L680.7 321.2L683.4 317.9L686.1 317.4L688.0 320.8L687.5 321.8L684.8 321.8L682.0 320.8ZM684.1 330.7L685.4 329.3L685.9 325.6L687.5 323.2L685.4 323.0L683.4 325.6L683.7 329.3ZM688.9 327.5L690.9 328.4L692.0 325.6L694.3 325.2L692.9 323.0L688.9 322.8L689.5 325.1ZM689.8 330.7L692.9 330.7L695.7 328.8L692.9 329.3L690.2 329.8ZM694.6 327.8L699.3 327.7L699.3 326.4L695.7 326.7ZM670.1 313.7L671.8 313.7L671.2 309.4L668.4 307.2L668.4 309.4ZM944.4 311.4L946.1 311.4L949.5 308.3L952.3 302.6L952.7 301.9L951.6 302.6L948.2 307.9L944.8 310.8ZM903.3 322.4L906.0 321.6L910.1 321.8L911.0 321.2L908.0 321.0L904.6 321.0ZM844.0 291.3L847.4 290.0L848.1 287.8L845.4 287.0L844.0 288.6ZM849.9 287.5L852.2 287.5L851.5 284.4L850.2 283.8ZM633.0 276.8L638.5 277.5L641.2 273.6L637.1 270.3L633.0 272.6ZM643.9 288.6L649.4 288.6L654.8 285.0L650.7 284.4L644.6 286.7ZM846.4 393.5L848.1 392.4L849.5 392.7L849.5 395.1L848.1 395.7L846.5 394.8ZM842.9 396.8L843.4 396.8L845.4 403.5L844.9 403.9L843.1 400.8ZM849.5 404.9L850.2 404.9L851.1 410.3L850.7 411.4L850.0 408.3Z" fill="#211e3a"/>
<text x="655" y="310.3" font-family="Liberation Sans" font-size="7.05" font-weight="bold" fill="#bfbde2" text-anchor="middle" letter-spacing="0.4">NORTH</text><text x="655" y="319.2" font-family="Liberation Sans" font-size="6.7" font-weight="bold" fill="#bfbde2" text-anchor="middle" letter-spacing="0.4">AMERICA</text><text x="720" y="419.6" font-family="Liberation Sans" font-size="7.0" font-weight="bold" fill="#bfbde2" text-anchor="middle" letter-spacing="0.4">SOUTH</text><text x="720" y="428.5" font-family="Liberation Sans" font-size="6.75" font-weight="bold" fill="#bfbde2" text-anchor="middle" letter-spacing="0.4">AMERICA</text><text x="814.5" y="314.8" font-family="Liberation Sans" font-size="6.4" font-weight="bold" fill="#bfbde2" text-anchor="middle" letter-spacing="0.4">EUROPE</text><text x="826.3" y="379" font-family="Liberation Sans" font-size="6.75" font-weight="bold" fill="#bfbde2" text-anchor="middle" letter-spacing="0.4">AFRICA</text><text x="922.7" y="313.6" font-family="Liberation Sans" font-size="7.05" font-weight="bold" fill="#bfbde2" text-anchor="middle" letter-spacing="0.4">ASIA</text><text x="972.8" y="419.7" font-family="Liberation Sans" font-size="7.0" font-weight="bold" fill="#bfbde2" text-anchor="start" letter-spacing="0.4">OCEANIA</text><text x="750.6" y="376.2" font-family="Liberation Sans" font-size="7" font-weight="normal" fill="#423f84" text-anchor="middle" letter-spacing="0.25">Atlantic Ocean</text><text x="661.5" y="396" font-family="Liberation Sans" font-size="7" font-weight="normal" fill="#423f84" text-anchor="end" letter-spacing="0.25">Pacific Ocean</text><text x="896.5" y="408" font-family="Liberation Sans" font-size="7" font-weight="normal" fill="#423f84" text-anchor="middle" letter-spacing="0.25">Indian Ocean</text><text x="923.2" y="497" font-family="Liberation Sans" font-size="7" font-weight="normal" fill="#423f84" text-anchor="middle" letter-spacing="0.25">Southern Ocean</text>
<circle cx="648.6" cy="291.6" r="6.0" fill="#b09c5c" fill-opacity="0.78" stroke="#d8c078" stroke-width="1.1" stroke-opacity="0.9"/><circle cx="664.7" cy="361.5" r="5.3" fill="#6aa4cc" fill-opacity="0.78" stroke="#9cc8e8" stroke-width="1.1" stroke-opacity="0.9"/><circle cx="798.6" cy="304.8" r="5.8" fill="#6c9c9e" fill-opacity="0.78" stroke="#a8d4cc" stroke-width="1.1" stroke-opacity="0.9"/><circle cx="816.3" cy="311.6" r="5.6" fill="#b4805e" fill-opacity="0.78" stroke="#d8a070" stroke-width="1.1" stroke-opacity="0.9"/><circle cx="828.9" cy="311.1" r="6.0" fill="#1e9cb2" fill-opacity="0.78" stroke="#40c0d0" stroke-width="1.1" stroke-opacity="0.9"/><circle cx="813.8" cy="321.4" r="5.6" fill="#8e8c98" fill-opacity="0.78" stroke="#b0b0b8" stroke-width="1.1" stroke-opacity="0.9"/><circle cx="804.9" cy="323.5" r="5.8" fill="#9ebc52" fill-opacity="0.78" stroke="#c0dc70" stroke-width="1.1" stroke-opacity="0.9"/><circle cx="819.5" cy="329.7" r="5.8" fill="#b4b4bc" fill-opacity="0.78" stroke="#dcdce0" stroke-width="1.1" stroke-opacity="0.9"/><circle cx="836.0" cy="323.5" r="5.6" fill="#98486c" fill-opacity="0.78" stroke="#b86088" stroke-width="1.1" stroke-opacity="0.9"/><circle cx="798.0" cy="334.0" r="5.5" fill="#2a4aa8" fill-opacity="0.55" stroke="#3a5ab8" stroke-width="1.1" stroke-opacity="0.9"/><circle cx="791.7" cy="334.8" r="5.8" fill="#1a8a8a" fill-opacity="0.78" stroke="#30a8a0" stroke-width="1.1" stroke-opacity="0.9"/><circle cx="703.2" cy="388.4" r="5.6" fill="#8c78b4" fill-opacity="0.78" stroke="#b8a8d8" stroke-width="1.1" stroke-opacity="0.9"/><circle cx="727.6" cy="407.3" r="5.5" fill="#1e50aa" fill-opacity="0.78" stroke="#3060b8" stroke-width="1.1" stroke-opacity="0.9"/><circle cx="706.1" cy="436.2" r="5.4" fill="#be7846" fill-opacity="0.78" stroke="#d89058" stroke-width="1.1" stroke-opacity="0.9"/><circle cx="715.5" cy="442.9" r="5.4" fill="#1ea0a0" fill-opacity="0.78" stroke="#40c0b8" stroke-width="1.1" stroke-opacity="0.9"/><circle cx="937.0" cy="291.6" r="6.5" fill="#1a9ca0" fill-opacity="0.78" stroke="#40bcbc" stroke-width="1.1" stroke-opacity="0.9"/><circle cx="943.8" cy="343.5" r="6.5" fill="#b85a88" fill-opacity="0.78" stroke="#e080a8" stroke-width="1.1" stroke-opacity="0.9"/><circle cx="875.6" cy="360.5" r="5.8" fill="#5a88a8" fill-opacity="0.78" stroke="#9ac0e0" stroke-width="1.1" stroke-opacity="0.9"/><circle cx="908.8" cy="363.2" r="6.5" fill="#c88a70" fill-opacity="0.78" stroke="#e8a870" stroke-width="1.1" stroke-opacity="0.9"/><circle cx="984.5" cy="428.6" r="6.3" fill="#2a6cd0" fill-opacity="0.78" stroke="#5090e0" stroke-width="1.1" stroke-opacity="0.9"/>
<circle cx="669.5" cy="335.2" r="21.4" fill="#1670e4" fill-opacity="0.74" stroke="#4a90e4" stroke-width="1.2" stroke-opacity="0.85"/>
<text x="655" y="319.2" font-family="Liberation Sans" font-size="6.7" font-weight="bold" fill="#bfbde2" text-anchor="middle" letter-spacing="0.4" opacity="0.5">AMERICA</text>
<circle cx="989.4" cy="497.3" r="5.9" fill="#3c3a40" stroke="#b6b2cc" stroke-width="2.8"/>
<rect x="988.75" y="496.3" width="1.3" height="3.8" fill="#a4a2b2"/><circle cx="989.4" cy="494.6" r="0.75" fill="#a4a2b2"/>
</svg>
<div class="abs" style="left:629px;top:221.5px;width:374px;height:1px;background:#2a2748"></div>
<div class="abs" style="left:629px;top:510px;width:374px;height:1px;background:#292745"></div>
<div class="t" id="k1t" style="top:75.12px;font-size:12.5px;font-weight:bold;color:#e6e6ee;letter-spacing:-0.220px;left:49.00px;">Revenue: Q1 2020</div>
<div class="t" id="k2t" style="top:75.12px;font-size:12.5px;font-weight:bold;color:#e6e6ee;letter-spacing:-0.288px;left:247.60px;">Expense: Q1 2020</div>
<div class="t" id="k3t" style="top:75.12px;font-size:12.5px;font-weight:bold;color:#e6e6ee;letter-spacing:-0.252px;left:446.00px;">Profit: Q1 2020</div>
<div class="t" id="k4t" style="top:81.52px;font-size:12.5px;font-weight:bold;color:#e6e6ee;letter-spacing:-0.372px;left:410.75px;width:600px;text-align:center;">Revenue per Employee</div>
<div class="t" id="k5t" style="top:81.32px;font-size:12.5px;font-weight:bold;color:#e6e6ee;letter-spacing:-0.440px;left:609.10px;width:600px;text-align:center;">Active Customers</div>
<div class="t" id="k1v" style="top:95.48px;font-size:24px;font-weight:normal;color:#fff;letter-spacing:0.000px;-webkit-text-stroke:0.7px #fff;transform:scaleX(0.9143);transform-origin:left center;left:50.00px;">$2.32M</div>
<div class="t" id="k2v" style="top:95.48px;font-size:24px;font-weight:normal;color:#fff;letter-spacing:0.000px;-webkit-text-stroke:0.7px #fff;transform:scaleX(0.8946);transform-origin:left center;left:248.30px;">$42.76K</div>
<div class="t" id="k3v" style="top:95.48px;font-size:24px;font-weight:normal;color:#fff;letter-spacing:0.000px;-webkit-text-stroke:0.7px #fff;transform:scaleX(0.8631);transform-origin:left center;left:446.60px;">$516.76K</div>
<div class="t" id="k4v" style="top:101.88px;font-size:24px;font-weight:normal;color:#fff;letter-spacing:0.000px;-webkit-text-stroke:0.7px #fff;transform:scaleX(0.8467);transform-origin:center center;left:410.75px;width:600px;text-align:center;">$110.01K</div>
<div class="t" id="k5v" style="top:101.88px;font-size:24px;font-weight:normal;color:#fff;letter-spacing:0.000px;-webkit-text-stroke:0.7px #fff;transform:scaleX(0.9008);transform-origin:center center;left:609.10px;width:600px;text-align:center;">3.63K</div>
<div class="t" id="k1s" style="top:129.72px;font-size:8.6px;font-weight:bold;color:#c4c4d0;letter-spacing:-0.028px;left:79.00px;">Q4 2019: $1.87M</div>
<div class="t" id="k2s" style="top:129.72px;font-size:8.6px;font-weight:bold;color:#c4c4d0;letter-spacing:-0.013px;left:272.00px;">Q4 2019: $148.90K</div>
<div class="t" id="k3s" style="top:129.72px;font-size:8.6px;font-weight:bold;color:#c4c4d0;letter-spacing:-0.050px;left:470.70px;">Q4 2019: $471.63K</div>
<div class="t" id="p1t" style="top:182.80px;font-size:15px;font-weight:bold;color:#ececf2;letter-spacing:-0.194px;left:33.20px;">Revenue vs Expense Trend</div>
<div class="t" id="p2t" style="top:183.10px;font-size:15px;font-weight:bold;color:#ececf2;letter-spacing:-0.181px;left:392.00px;">Revenue by Projects</div>
<div class="t" id="p3t" style="top:182.70px;font-size:15px;font-weight:bold;color:#ececf2;letter-spacing:-0.161px;left:640.20px;">Customers Distribution</div>
<div class="t" id="bv0" style="top:375.31px;font-size:8px;font-weight:normal;color:#f6f6fa;letter-spacing:0.000px;-webkit-text-stroke:0.25px #f6f6fa;left:-241.90px;width:600px;text-align:center;">$116.21K</div>
<div class="t" id="be0" style="top:429.12px;font-size:8px;font-weight:normal;color:#f6f6fa;letter-spacing:0.000px;-webkit-text-stroke:0.25px #f6f6fa;left:-220.20px;width:600px;text-align:center;">$45.40K</div>
<div class="t" id="bm0" style="top:478.07px;font-size:8.3px;font-weight:normal;color:#cfcfdc;letter-spacing:0.000px;-webkit-text-stroke:0.15px #cfcfdc;left:-231.10px;width:600px;text-align:center;">Oct 2019</div>
<div class="t" id="bv1" style="top:248.56px;font-size:8px;font-weight:normal;color:#f6f6fa;letter-spacing:0.000px;-webkit-text-stroke:0.25px #f6f6fa;left:-189.00px;width:600px;text-align:center;">$282.98K</div>
<div class="t" id="be1" style="top:409.31px;font-size:8px;font-weight:normal;color:#f6f6fa;letter-spacing:0.000px;-webkit-text-stroke:0.25px #f6f6fa;left:-167.30px;width:600px;text-align:center;">$71.47K</div>
<div class="t" id="bm1" style="top:478.07px;font-size:8.3px;font-weight:normal;color:#cfcfdc;letter-spacing:0.000px;-webkit-text-stroke:0.15px #cfcfdc;left:-178.20px;width:600px;text-align:center;">Nov 2019</div>
<div class="t" id="bv2" style="top:295.40px;font-size:8px;font-weight:normal;color:#f6f6fa;letter-spacing:0.000px;-webkit-text-stroke:0.25px #f6f6fa;left:-136.10px;width:600px;text-align:center;">$221.35K</div>
<div class="t" id="be2" style="top:439.28px;font-size:8px;font-weight:normal;color:#f6f6fa;letter-spacing:0.000px;-webkit-text-stroke:0.25px #f6f6fa;left:-114.40px;width:600px;text-align:center;">$32.04K</div>
<div class="t" id="bm2" style="top:478.07px;font-size:8.3px;font-weight:normal;color:#cfcfdc;letter-spacing:0.000px;-webkit-text-stroke:0.15px #cfcfdc;left:-125.30px;width:600px;text-align:center;">Dec 2019</div>
<div class="t" id="bv3" style="top:300.96px;font-size:8px;font-weight:normal;color:#f6f6fa;letter-spacing:0.000px;-webkit-text-stroke:0.25px #f6f6fa;left:-83.20px;width:600px;text-align:center;">$214.04K</div>
<div class="t" id="be3" style="top:450.04px;font-size:8px;font-weight:normal;color:#f6f6fa;letter-spacing:0.000px;-webkit-text-stroke:0.25px #f6f6fa;left:-61.50px;width:600px;text-align:center;">$17.88K</div>
<div class="t" id="bm3" style="top:478.07px;font-size:8.3px;font-weight:normal;color:#cfcfdc;letter-spacing:0.000px;-webkit-text-stroke:0.15px #cfcfdc;left:-72.40px;width:600px;text-align:center;">Jan 2020</div>
<div class="t" id="bv4" style="top:300.71px;font-size:8px;font-weight:normal;color:#f6f6fa;letter-spacing:0.000px;-webkit-text-stroke:0.25px #f6f6fa;left:-30.30px;width:600px;text-align:center;">$214.37K</div>
<div class="t" id="be4" style="top:445.84px;font-size:8px;font-weight:normal;color:#f6f6fa;letter-spacing:0.000px;-webkit-text-stroke:0.25px #f6f6fa;left:-8.60px;width:600px;text-align:center;">$23.40K</div>
<div class="t" id="bm4" style="top:478.07px;font-size:8.3px;font-weight:normal;color:#cfcfdc;letter-spacing:0.000px;-webkit-text-stroke:0.15px #cfcfdc;left:-19.50px;width:600px;text-align:center;">Feb 2020</div>
<div class="t" id="bv5" style="top:363.99px;font-size:8px;font-weight:normal;color:#f6f6fa;letter-spacing:0.000px;-webkit-text-stroke:0.25px #f6f6fa;left:22.60px;width:600px;text-align:center;">$131.10K</div>
<div class="t" id="be5" style="top:462.43px;font-size:8px;font-weight:normal;color:#f6f6fa;letter-spacing:0.000px;-webkit-text-stroke:0.25px #f6f6fa;left:44.30px;width:600px;text-align:center;">$1.48K</div>
<div class="t" id="bm5" style="top:478.07px;font-size:8.3px;font-weight:normal;color:#cfcfdc;letter-spacing:0.000px;-webkit-text-stroke:0.15px #cfcfdc;left:33.40px;width:600px;text-align:center;">Mar 2020</div>
<div class="t" id="lg1" style="top:493.67px;font-size:8.3px;font-weight:normal;color:#c8c8d6;letter-spacing:-0.486px;left:161.30px;">Revenue</div>
<div class="t" id="lg2" style="top:493.67px;font-size:8.3px;font-weight:normal;color:#c8c8d6;letter-spacing:-0.534px;left:208.30px;">Expenses</div>
<div class="t" id="dl1" style="top:478.87px;font-size:8.3px;font-weight:normal;color:#c8c8d6;letter-spacing:-0.600px;left:414.40px;">ERP</div>
<div class="t" id="dl2" style="top:478.87px;font-size:8.3px;font-weight:normal;color:#c8c8d6;letter-spacing:-0.240px;left:445.40px;">Consulting Services</div>
<div class="t" id="dl3" style="top:478.87px;font-size:8.3px;font-weight:normal;color:#c8c8d6;letter-spacing:-0.136px;left:530.70px;">OEM Mobile Apps</div>
<div class="t" id="dl4" style="top:493.27px;font-size:8.3px;font-weight:normal;color:#c8c8d6;letter-spacing:-0.102px;left:414.40px;">Certification Program</div>
<div class="t" id="dl5" style="top:493.27px;font-size:8.3px;font-weight:normal;color:#c8c8d6;letter-spacing:-0.161px;left:506.60px;">App Builder</div>
<div class="t" id="dp0" style="top:352.27px;font-size:7.6px;font-weight:normal;color:#f4f4f8;letter-spacing:0.000px;-webkit-text-stroke:0.2px #f4f4f8;left:290.00px;width:600px;text-align:center;">52%</div>
<div class="t" id="dp1" style="top:407.47px;font-size:7.6px;font-weight:normal;color:#f4f4f8;letter-spacing:0.000px;-webkit-text-stroke:0.2px #f4f4f8;left:130.00px;width:600px;text-align:center;">23%</div>
<div class="t" id="dp2" style="top:310.77px;font-size:7.6px;font-weight:normal;color:#f4f4f8;letter-spacing:0.000px;-webkit-text-stroke:0.2px #f4f4f8;left:114.50px;width:600px;text-align:center;">13%</div>
<div class="t" id="dp3" style="top:269.07px;font-size:7.6px;font-weight:normal;color:#f4f4f8;letter-spacing:0.000px;-webkit-text-stroke:0.2px #f4f4f8;left:149.00px;width:600px;text-align:center;">6%</div>
<div class="t" id="dp4" style="top:257.07px;font-size:7.6px;font-weight:normal;color:#f4f4f8;letter-spacing:0.000px;-webkit-text-stroke:0.2px #f4f4f8;left:181.80px;width:600px;text-align:center;">6%</div>
<div class="t" id="n599" style="top:330.51px;font-size:9.2px;font-weight:normal;color:#f4f6ff;letter-spacing:0.000px;-webkit-text-stroke:0.35px #f4f6ff;left:369.50px;width:600px;text-align:center;">599</div>
</div></body></html>
